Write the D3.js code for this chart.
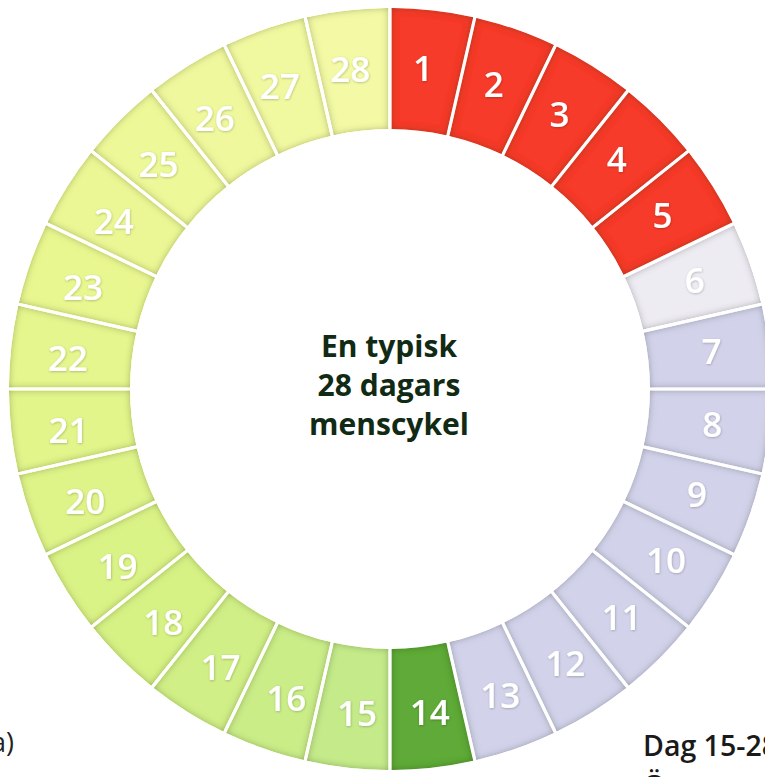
<!DOCTYPE html>
<html>
<head>
<meta charset="utf-8">
<script src="https://cdn.jsdelivr.net/npm/d3@7"></script>
<style>
html,body{margin:0;padding:0;background:#fff;}
svg{display:block;}
</style>
</head>
<body>
<svg id="chart" width="765" height="777"></svg>
<script>
// ---- data ----
const days = [1,2,3,4,5,6,7,8,9,10,11,12,13,14,15,16,17,18,19,20,21,22,23,24,25,26,27,28];
const phases = ["mens","mens","mens","mens","mens","post","follikel","follikel","follikel","follikel","follikel","follikel","follikel","ägglossning",
  "luteal","luteal","luteal","luteal","luteal","luteal","luteal","luteal","luteal","luteal","luteal","luteal","luteal","luteal"];
const centerLines = ["En typisk","28 dagars","menscykel"];
const cornerLeft = "a)";
const cornerRight = ["Dag 15-28","Ö"];

// ---- drawing ----
const W = 765, H = 777;
const cx = 390, cy = 389, R = 381, r0 = 260;
const svg = d3.select("#chart");

const defs = svg.append("defs");
const f = defs.append("filter").attr("id","rim").attr("x","-5%").attr("y","-5%").attr("width","110%").attr("height","110%");
f.append("feGaussianBlur").attr("in","SourceAlpha").attr("stdDeviation",3.5).attr("result","b");
f.append("feComposite").attr("in","SourceAlpha").attr("in2","b").attr("operator","arithmetic")
  .attr("k1",0).attr("k2",1.6).attr("k3",-1.6).attr("k4",0).attr("result","edge");
f.append("feFlood").attr("flood-color","#203000").attr("flood-opacity",0.35);
f.append("feComposite").attr("in2","edge").attr("operator","in").attr("result","shade");
const fm = f.append("feMerge");
fm.append("feMergeNode").attr("in","SourceGraphic");
fm.append("feMergeNode").attr("in","shade");

const ts = defs.append("filter").attr("id","tshadow").attr("x","-20%").attr("y","-20%").attr("width","140%").attr("height","140%");
ts.append("feDropShadow").attr("dx",0.5).attr("dy",0.8).attr("stdDeviation",1.2)
  .attr("flood-color","#000").attr("flood-opacity",0.25);

const angle = d3.scaleBand().domain(days).range([0, 2*Math.PI]).padding(0);

const lutealDays = days.filter((d,i)=>phases[i]==="luteal");
const lutealColor = d3.scaleLinear()
  .domain([d3.min(lutealDays), d3.min(lutealDays)+3, d3.min(lutealDays)+8, d3.max(lutealDays)])
  .range(["#c4ea8a","#d6f284","#e9f790","#f3f9a4"])
  .interpolate(d3.interpolateRgb);
const phaseColor = {mens:"#f63a2c", post:"#eeecf3", follikel:"#d2d3ea", "ägglossning":"#5eaa38"};
const color = (d,i) => phases[i]==="luteal" ? lutealColor(d) : phaseColor[phases[i]];

const arc = d3.arc()
  .innerRadius(r0).outerRadius(R)
  .startAngle(d=>angle(d)).endAngle(d=>angle(d)+angle.bandwidth())
  .padAngle(0.0085).padRadius(R);

const g = svg.append("g").attr("transform",`translate(${cx},${cy})`);
g.selectAll("path.seg").data(days).join("path")
  .attr("class","seg")
  .attr("d",arc)
  .attr("fill",(d,i)=>color(d,i))
  .attr("filter","url(#rim)");

const labelR = 324;
const shift = -0.6 * Math.PI / 180;
const mid = d => angle(d) + angle.bandwidth()/2 + shift;
g.selectAll("text.day").data(days).join("text")
  .attr("class","day")
  .attr("x",d=>labelR*Math.sin(mid(d)))
  .attr("y",d=>2 - labelR*Math.cos(mid(d)))
  .attr("dy","0.36em")
  .attr("text-anchor","middle")
  .attr("font-family","'Open Sans', sans-serif")
  .attr("font-weight",600)
  .attr("font-size",35)
  .attr("fill","#fff")
  .attr("filter","url(#tshadow)")
  .text(d=>d);

svg.append("g").selectAll("text").data(centerLines).join("text")
  .attr("x",389)
  .attr("y",(d,i)=>357+i*39)
  .attr("text-anchor","middle")
  .attr("font-family","'Open Sans', sans-serif")
  .attr("font-weight",700)
  .attr("font-size",30)
  .attr("fill","#112a14")
  .text(d=>d);

svg.append("text")
  .attr("x",14).attr("y",752)
  .attr("text-anchor","end")
  .attr("font-family","'Open Sans', sans-serif")
  .attr("font-size",27)
  .attr("fill","#222")
  .text(cornerLeft);

svg.append("g").selectAll("text").data(cornerRight).join("text")
  .attr("x",643)
  .attr("y",(d,i)=>756+i*40)
  .attr("font-family","'Open Sans', sans-serif")
  .attr("font-weight",600)
  .attr("font-size",28.5)
  .attr("fill","#1a1a1a")
  .text(d=>d);
</script>
</body>
</html>
